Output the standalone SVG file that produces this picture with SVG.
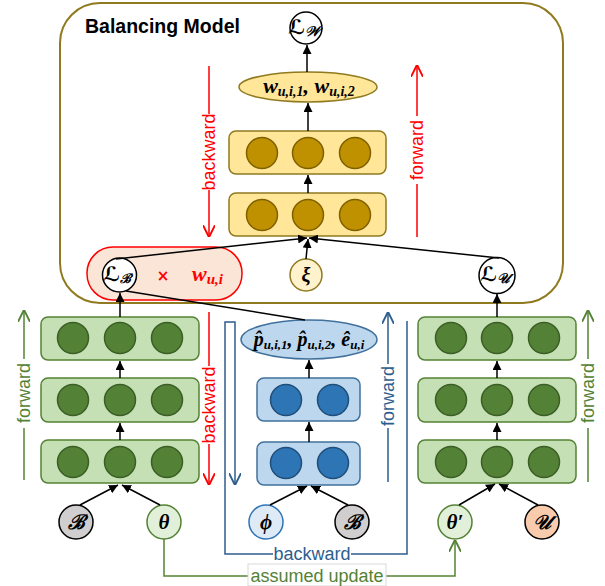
<svg xmlns="http://www.w3.org/2000/svg" width="605" height="586" viewBox="0 0 605 586">
<style>
.lbl{font-family:"Liberation Sans",Arial,sans-serif;font-size:18px}
.math{font-family:"Liberation Serif","DejaVu Serif",serif;font-weight:bold;font-style:italic}
.cal{font-family:"DejaVu Sans","Noto Sans",serif;font-style:italic}
.gbox{fill:#C5E0B4;stroke:#548235;stroke-width:1.5}
.gc{fill:#538135;stroke:#3B5E26;stroke-width:1.5}
.bbox{fill:#BDD7EE;stroke:#41719C;stroke-width:1.5}
.bc{fill:#2E75B6;stroke:#1F4E79;stroke-width:1.5}
.ybox{fill:#FFE699;stroke:#8F7A1F;stroke-width:1.5}
.yc{fill:#BF9000;stroke:#7F6000;stroke-width:1.5}
.lc{fill:#fff;stroke:#000;stroke-width:1.5}
.k{stroke:#000;stroke-width:1.5;fill:none}
</style>
<defs>
<marker id="ak" viewBox="0 0 10 10" refX="10" refY="5" markerWidth="9" markerHeight="9" markerUnits="userSpaceOnUse" orient="auto"><path d="M0,0 L10,5 L0,10 z" fill="#000"/></marker>
<marker id="ar" viewBox="0 0 10 10" refX="9" refY="5" markerWidth="12" markerHeight="12" markerUnits="userSpaceOnUse" orient="auto"><path d="M0,0 L10,5 L0,10" fill="none" stroke="#FF0000" stroke-width="1.6"/></marker>
<marker id="ag" viewBox="0 0 10 10" refX="9" refY="5" markerWidth="12" markerHeight="12" markerUnits="userSpaceOnUse" orient="auto"><path d="M0,0 L10,5 L0,10" fill="none" stroke="#548235" stroke-width="1.6"/></marker>
<marker id="ab" viewBox="0 0 10 10" refX="9" refY="5" markerWidth="12" markerHeight="12" markerUnits="userSpaceOnUse" orient="auto"><path d="M0,0 L10,5 L0,10" fill="none" stroke="#2E5E8E" stroke-width="1.6"/></marker>
</defs>
<rect width="605" height="586" fill="#fff"/>

<g id="balancing-model">
<rect x="60" y="3" width="503" height="300" rx="40" fill="#fff" stroke="#8F7A1F" stroke-width="2"/>
<text x="85" y="33" font-family="Liberation Sans,Arial,sans-serif" font-weight="bold" font-size="19.5">Balancing Model</text>
</g>

<g id="loss-w">
<circle cx="306" cy="28" r="16" class="lc"/>
<text x="304" y="34" text-anchor="middle" class="math" font-size="20"><tspan class="cal">ℒ</tspan><tspan font-size="14" dy="2">𝒲</tspan></text>
</g>

<g id="weights-output">
<ellipse cx="308" cy="87" rx="69" ry="15" class="ybox"/>
<text x="309" y="93" text-anchor="middle" class="math" font-size="22">w<tspan font-size="14" dy="3">u,i,1</tspan><tspan dy="-3">, w</tspan><tspan font-size="14" dy="3">u,i,2</tspan></text>
</g>

<g id="balancing-layer-2">
<rect x="229" y="131" width="157" height="43" rx="7" class="ybox"/>
<circle cx="262" cy="153" r="15.5" class="yc"/><circle cx="308" cy="153" r="15.5" class="yc"/><circle cx="355" cy="153" r="15.5" class="yc"/>
</g>
<g id="balancing-layer-1">
<rect x="229" y="193" width="157" height="43" rx="7" class="ybox"/>
<circle cx="262" cy="215" r="15.5" class="yc"/><circle cx="308" cy="215" r="15.5" class="yc"/><circle cx="355" cy="215" r="15.5" class="yc"/>
</g>

<g id="weighted-loss">
<rect x="87" y="247" width="155" height="53" rx="26" fill="#FBE5D6" stroke="#FF0000" stroke-width="1.5"/>
<text x="163" y="281" text-anchor="middle" fill="#FF0000" font-family="DejaVu Sans,sans-serif" font-weight="bold" font-size="15">×</text>
<text x="192" y="281" class="math" font-size="22" fill="#FF0000">w<tspan font-size="15" dy="3">u,i</tspan></text>
</g>
<g id="loss-b">
<circle cx="119.5" cy="275" r="17" class="lc"/>
<text x="117" y="281" text-anchor="middle" class="math" font-size="20"><tspan class="cal">ℒ</tspan><tspan font-size="13" dy="2">ℬ</tspan></text>
</g>
<g id="xi">
<circle cx="306" cy="275" r="16" fill="#FFF2CC" stroke="#8F7A1F" stroke-width="1.5"/>
<text x="306" y="282" text-anchor="middle" class="math" font-size="20">ξ</text>
</g>
<g id="loss-u">
<circle cx="497" cy="275.5" r="18" class="lc"/>
<text x="495" y="281" text-anchor="middle" class="math" font-size="20"><tspan class="cal">ℒ</tspan><tspan font-size="14" dy="2">𝒰</tspan></text>
</g>

<g id="left-layer-3">
<rect x="41" y="317" width="158" height="43" rx="7" class="gbox"/>
<circle cx="73" cy="338" r="15.5" class="gc"/><circle cx="120" cy="338" r="15.5" class="gc"/><circle cx="167" cy="338" r="15.5" class="gc"/>
</g>
<g id="left-layer-2">
<rect x="41" y="378" width="158" height="44" rx="7" class="gbox"/>
<circle cx="73" cy="400" r="15.5" class="gc"/><circle cx="120" cy="400" r="15.5" class="gc"/><circle cx="167" cy="400" r="15.5" class="gc"/>
</g>
<g id="left-layer-1">
<rect x="41" y="440" width="158" height="43" rx="7" class="gbox"/>
<circle cx="73" cy="462" r="15.5" class="gc"/><circle cx="120" cy="462" r="15.5" class="gc"/><circle cx="167" cy="462" r="15.5" class="gc"/>
</g>

<g id="prediction-output">
<ellipse cx="309" cy="339.5" rx="68" ry="19.5" class="bbox"/>
<text x="309" y="346" text-anchor="middle" class="math" font-size="20">p̂<tspan font-size="13" dy="3">u,i,1</tspan><tspan dy="-3">, p̂</tspan><tspan font-size="13" dy="3">u,i,2</tspan><tspan dy="-3">, ê</tspan><tspan font-size="13" dy="3">u,i</tspan></text>
</g>
<g id="middle-layer-2">
<rect x="257" y="378" width="103" height="43" rx="7" class="bbox"/>
<circle cx="286" cy="400" r="15.5" class="bc"/><circle cx="333" cy="400" r="15.5" class="bc"/>
</g>
<g id="middle-layer-1">
<rect x="257" y="442" width="103" height="43" rx="7" class="bbox"/>
<circle cx="286" cy="463" r="15.5" class="bc"/><circle cx="333" cy="463" r="15.5" class="bc"/>
</g>

<g id="right-layer-3">
<rect x="418" y="317" width="158" height="43" rx="7" class="gbox"/>
<circle cx="451" cy="338" r="15.5" class="gc"/><circle cx="497" cy="338" r="15.5" class="gc"/><circle cx="544" cy="338" r="15.5" class="gc"/>
</g>
<g id="right-layer-2">
<rect x="418" y="378" width="158" height="44" rx="7" class="gbox"/>
<circle cx="451" cy="400" r="15.5" class="gc"/><circle cx="497" cy="400" r="15.5" class="gc"/><circle cx="544" cy="400" r="15.5" class="gc"/>
</g>
<g id="right-layer-1">
<rect x="418" y="440" width="158" height="43" rx="7" class="gbox"/>
<circle cx="451" cy="462" r="15.5" class="gc"/><circle cx="497" cy="462" r="15.5" class="gc"/><circle cx="544" cy="462" r="15.5" class="gc"/>
</g>

<g id="input-b1">
<circle cx="76" cy="522" r="17" fill="#D0CECE" stroke="#000" stroke-width="1.5"/>
<text x="76" y="529" text-anchor="middle" class="math" font-size="20">ℬ</text>
</g>
<g id="input-theta">
<circle cx="164" cy="522" r="17" fill="#E2F0D9" stroke="#548235" stroke-width="1.5"/>
<text x="164" y="529" text-anchor="middle" class="math" font-size="21">θ</text>
</g>
<g id="input-phi">
<circle cx="266" cy="522" r="17" fill="#DEEBF7" stroke="#2E75B6" stroke-width="1.5"/>
<text x="266" y="529" text-anchor="middle" class="math" font-size="21">ϕ</text>
</g>
<g id="input-b2">
<circle cx="352" cy="522" r="17" fill="#D0CECE" stroke="#000" stroke-width="1.5"/>
<text x="352" y="529" text-anchor="middle" class="math" font-size="20">ℬ</text>
</g>
<g id="input-theta-prime">
<circle cx="455" cy="522" r="17" fill="#E2F0D9" stroke="#548235" stroke-width="1.5"/>
<text x="455" y="529" text-anchor="middle" class="math" font-size="21">θ′</text>
</g>
<g id="input-u">
<circle cx="542" cy="522" r="17" fill="#F8CBAD" stroke="#000" stroke-width="1.5"/>
<text x="542" y="529" text-anchor="middle" class="math" font-size="20"><tspan class="cal">𝒰</tspan></text>
</g>

<g id="connectors">
<g class="k" marker-end="url(#ak)">
<line x1="307" y1="72" x2="307" y2="45"/>
<line x1="308" y1="131" x2="308" y2="103"/>
<line x1="308" y1="193" x2="308" y2="175"/>
<line x1="116" y1="259" x2="307" y2="238"/>
<line x1="306" y1="259" x2="308" y2="239"/>
<line x1="499" y1="258" x2="309" y2="238"/>
<line x1="120" y1="317" x2="120" y2="293"/>
<line x1="120" y1="378" x2="120" y2="361"/>
<line x1="120" y1="440" x2="120" y2="423"/>
<line x1="80" y1="505" x2="118" y2="485"/>
<line x1="160" y1="505" x2="122" y2="485"/>
<line x1="309" y1="378" x2="309" y2="360"/>
<line x1="309" y1="442" x2="309" y2="422"/>
<line x1="270" y1="505" x2="307" y2="486"/>
<line x1="348" y1="505" x2="311" y2="486"/>
<line x1="497" y1="317" x2="497" y2="294"/>
<line x1="497" y1="378" x2="497" y2="361"/>
<line x1="497" y1="440" x2="497" y2="423"/>
<line x1="459" y1="505" x2="495" y2="484"/>
<line x1="538" y1="505" x2="499" y2="484"/>
</g>
<line x1="126" y1="291" x2="305" y2="320" class="k"/>

<path d="M209,66 V114 M209,190 V236" stroke="#FF0000" stroke-width="1.5" fill="none" marker-end="url(#ar)"/>
<text class="lbl" fill="#FF0000" text-anchor="middle" transform="translate(215,152) rotate(-90)">backward</text>
<path d="M417,237 V184 M417,116 V66" stroke="#FF0000" stroke-width="1.5" fill="none" marker-end="url(#ar)"/>
<text class="lbl" fill="#FF0000" text-anchor="middle" transform="translate(423,150) rotate(-90)">forward</text>
<path d="M24,480 V428 M24,359 V311" stroke="#548235" stroke-width="1.5" fill="none" marker-end="url(#ag)"/>
<text class="lbl" fill="#548235" text-anchor="middle" transform="translate(30,393) rotate(-90)">forward</text>
<path d="M209,312 V366 M209,444 V484" stroke="#FF0000" stroke-width="1.5" fill="none" marker-end="url(#ar)"/>
<text class="lbl" fill="#FF0000" text-anchor="middle" transform="translate(215,405) rotate(-90)">backward</text>
<path d="M388,482 V428 M388,364 V313" stroke="#2E5E8E" stroke-width="1.5" fill="none" marker-end="url(#ab)"/>
<text class="lbl" fill="#2E5E8E" text-anchor="middle" transform="translate(394,396) rotate(-90)">forward</text>
<path d="M588,482 V428 M588,359 V311" stroke="#548235" stroke-width="1.5" fill="none" marker-end="url(#ag)"/>
<text class="lbl" fill="#548235" text-anchor="middle" transform="translate(594,393) rotate(-90)">forward</text>
<path d="M407,321 V554 H351 M273,554 H225 V322 H235 V484" stroke="#2E5E8E" stroke-width="1.5" fill="none" marker-end="url(#ab)"/>
<text x="312" y="560" class="lbl" fill="#2E5E8E" text-anchor="middle">backward</text>
<path d="M164,539 V576 H248 M386,576 H455 V541" stroke="#548235" stroke-width="1.5" fill="none" marker-end="url(#ag)"/>
<rect x="248" y="564" width="138" height="22" fill="#fff" stroke="#D9D9D9" stroke-width="1"/>
<text x="317" y="582" class="lbl" fill="#548235" text-anchor="middle">assumed update</text>
</g>
</svg>
